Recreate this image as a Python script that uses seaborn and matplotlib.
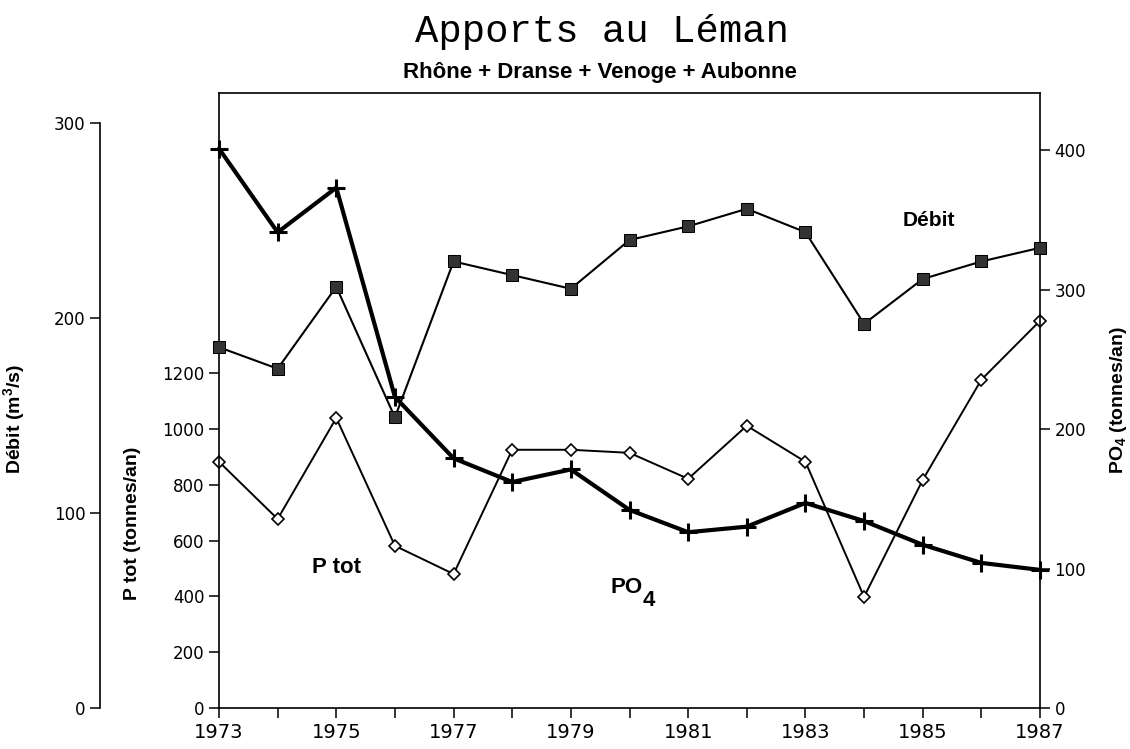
import seaborn as sns
import matplotlib.pyplot as plt
from matplotlib.ticker import MultipleLocator

years = list(range(1973, 1988))
debit = [185, 174, 216, 149, 229, 222, 215, 240, 247, 256, 244, 197, 220, 229, 236]
ptot = [882, 677, 1039, 581, 480, 925, 925, 914, 821, 1011, 882, 398, 817, 1176, 1387]
po4 = [401, 341, 373, 223, 179, 162, 171, 142, 126, 130, 147, 134, 117, 104, 99]

sns.set_style('ticks')
plt.rcParams['font.family'] = ['DejaVu Sans']
plt.rcParams['text.color'] = 'black'
plt.rcParams['axes.labelcolor'] = 'black'
plt.rcParams['xtick.color'] = 'black'
plt.rcParams['ytick.color'] = 'black'
plt.rcParams['mathtext.fontset'] = 'custom'
plt.rcParams['mathtext.rm'] = 'Liberation Sans:bold'
plt.rcParams['mathtext.bf'] = 'Liberation Sans:bold'
plt.rcParams['mathtext.it'] = 'Liberation Sans:bold'
plt.rcParams['mathtext.default'] = 'bf'

W, H = 1130, 749
L, R, B, T = 219, 1040, 708, 93
fig = plt.figure(figsize=(W / 100, H / 100), dpi=100)
ax = fig.add_axes([L / W, (H - B) / H, (R - L) / W, (B - T) / H])
ax_po4 = ax.twinx()
ax_deb = ax.twinx()

lab = dict(family=['Liberation Sans', 'DejaVu Sans'], fontweight='bold', color='black')

sns.lineplot(x=years, y=ptot, ax=ax, color='black', lw=1.4, marker='D',
             markersize=6.5, markerfacecolor='white', markeredgecolor='black',
             markeredgewidth=1.2, clip_on=False)
sns.lineplot(x=years, y=po4, ax=ax_po4, color='black', lw=3, marker='+',
             markersize=13, markeredgewidth=2.2, markeredgecolor='black',
             clip_on=False)
sns.lineplot(x=years, y=debit, ax=ax_deb, color='black', lw=1.5, marker='s',
             markersize=8.5, markerfacecolor='#333333', markeredgecolor='black',
             clip_on=False)

# axis ranges so that tick positions match the original scales
ax.set_xlim(1973, 1987)
ax.set_ylim(0, (B - T) / ((708 - 373) / 1200))
ax_po4.set_ylim(0, (B - T) / ((709 - 151) / 400))
ax_deb.set_ylim(0, (B - T) / ((708 - 123) / 300))

ax.set_xticks(range(1973, 1988, 2))
ax.xaxis.set_minor_locator(MultipleLocator(1))
ax.set_yticks(range(0, 1201, 200))
ax_po4.set_yticks(range(0, 401, 100))
ax_deb.set_yticks([0, 100, 200, 300])

for a in (ax, ax_po4, ax_deb):
    a.tick_params(axis='both', which='both', direction='out', length=7,
                  width=1.1, color='black', labelcolor='black', labelsize=12)
    for s in a.spines.values():
        s.set_linewidth(1.2)
        s.set_color('black')
ax.tick_params(axis='x', labelsize=14, pad=4)

ax.spines['right'].set_visible(False)
for s in ('left', 'top', 'bottom'):
    ax_po4.spines[s].set_visible(False)

ax_deb.yaxis.set_ticks_position('left')
ax_deb.yaxis.set_label_position('left')
for s in ('right', 'top', 'bottom'):
    ax_deb.spines[s].set_visible(False)
ax_deb.spines['left'].set_visible(True)
ax_deb.spines['left'].set_position(('axes', (100 - L) / (R - L)))
ax_deb.spines['left'].set_bounds(0, 300)

ax.set_xlabel('')
ax.set_ylabel('P tot (tonnes/an)', fontsize=14, **lab)
ax.yaxis.set_label_coords(-0.095, 0.30)
ax_deb.set_ylabel(r'Débit (m$^3$/s)', fontsize=14, **lab)
ax_deb.yaxis.set_label_coords(-0.234, 0.47)
ax_po4.set_ylabel(r'PO$_4$ (tonnes/an)', fontsize=14, rotation=90, **lab)
ax_po4.yaxis.set_label_coords(1.083, 0.50)

ax.text(1985.1, 1748, 'Débit', ha='center', va='center', fontsize=15, **lab)
ax.text(1975.0, 505, 'P tot', ha='center', va='center', fontsize=16, **lab)
ax.text(1980.23, 432, 'PO', ha='right', va='center', fontsize=16, **lab)
ax.text(1980.23, 385, '4', ha='left', va='center', fontsize=16, **lab)

fig.text(602 / W, 1 - 42 / H, 'Apports au Léman', ha='center', va='baseline',
         family=['Liberation Mono', 'DejaVu Sans Mono'], fontsize=28)
fig.text(600 / W, 1 - 78 / H, 'Rhône + Dranse + Venoge + Aubonne',
         ha='center', va='baseline', fontsize=16, **lab)

fig.savefig('out.png', dpi=100)
